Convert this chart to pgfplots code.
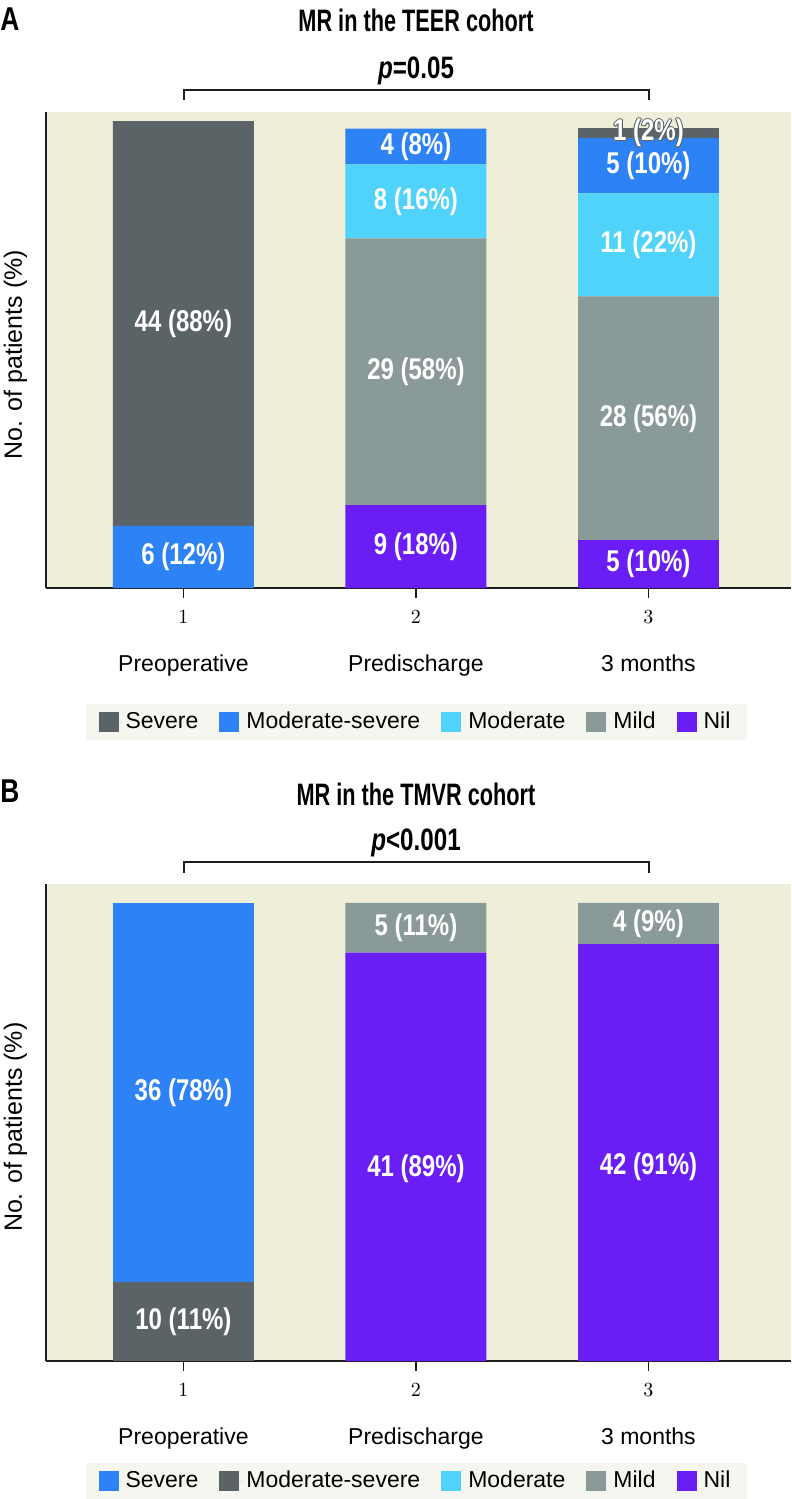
\documentclass[border=0pt]{standalone}
\usepackage{fontspec}
\setmainfont{Liberation Sans}
\newfontfamily\condfont[FakeStretch=0.70]{Liberation Sans}
\newfontfamily\labfont[FakeStretch=0.80]{Liberation Sans}
\newfontfamily\pfont[FakeStretch=0.78]{Liberation Sans}
\usepackage{pgfplots}
\pgfplotsset{compat=1.18}
\usepackage{pgfplotstable}

\definecolor{sevc}{RGB}{90,100,103}
\definecolor{modsevc}{RGB}{45,131,245}
\definecolor{modc}{RGB}{79,211,250}
\definecolor{mildc}{RGB}{137,154,153}
\definecolor{nilc}{RGB}{106,30,245}
\definecolor{bgc}{RGB}{239,238,216}
\definecolor{legbg}{RGB}{246,246,241}
\definecolor{axisc}{RGB}{30,30,30}

% segment heights in % of a full bar
\pgfplotstableread{
x nil  mild moderate modsev severe
1 0    0    0        13.5   88.0
2 18.0 58.0 16.1     7.8    0
3 10.4 53.0 22.4     12.0   2.2
}\tabA
\pgfplotstableread{
x nil  mild moderate modsev severe
1 0    0    0        17.2   82.8
2 89.1 10.9 0        0      0
3 91.0 9.0  0        0      0
}\tabB

\pgfplotsset{mrbars/.style={
    ybar stacked, bar width=0.606,
    scale only axis, width=372.5pt,
    xmin=0.409, xmax=3.613, ymin=0,
    axis x line*=bottom, axis y line*=left,
    axis line style={-, line width=1pt, color=axisc},
    axis background/.style={fill=bgc},
    xtick={1,2,3}, ytick=\empty,
    tick align=outside, major tick length=5pt,
    xtick style={line width=0.6pt, color=axisc},
    xticklabel style={font=\fontsize{10}{11}\selectfont, yshift=-3pt},
    ylabel={No. of patients (\%)},
    ylabel style={at={(axis description cs:-0.041,0.49)}, anchor=center,
                  inner sep=0pt, font=\fontsize{12.5}{14}\selectfont},
    clip=false,
    legend columns=5, reverse legend,
    legend style={draw=none, fill=legbg, anchor=center,
                  font=\fontsize{11.5}{13}\selectfont,
                  inner xsep=6.5pt, inner ysep=2pt,
                  nodes={inner ysep=2pt},
                  /tikz/every even column/.append style={column sep=8.5pt}},
    legend image code/.code={\fill[##1] (0pt,-5pt) rectangle (10pt,5pt);
                             \path (0pt,0pt) -- (11.5pt,0pt);},
}}
\tikzset{
  barlab/.style={text=white, anchor=center, inner sep=0pt,
                 font=\labfont\bfseries\fontsize{15}{16}\selectfont},
  halo/.style={barlab, text=sevc},
  catlab/.style={anchor=base, yshift=-41.5pt, font=\fontsize{11.5}{13}\selectfont},
}

\begin{document}
\begin{tikzpicture}
\path (0,0) rectangle (395.5pt,-749.5pt);

% ---------- panel A ----------
\begin{axis}[mrbars, height=238pt, ymax=103.5,
    at={(23pt,-294pt)}, anchor=south west,
    legend style={at={(0.4973,-0.2815)}}]
\addplot[fill=nilc, draw=none] table[x=x, y=nil] {\tabA};
\addplot[fill=mildc, draw=none] table[x=x, y=mild] {\tabA};
\addplot[fill=modc, draw=none] table[x=x, y=moderate] {\tabA};
\addplot[fill=modsevc, draw=none] table[x=x, y=modsev] {\tabA};
\addplot[fill=sevc, draw=none] table[x=x, y=severe] {\tabA};
\legend{Nil, Mild, Moderate, Moderate-severe, Severe}

% label anchors at the middle of each segment
\coordinate (a1) at (axis cs:1,6.75);
\coordinate (a2) at (axis cs:1,57.5);
\coordinate (a3) at (axis cs:2,9.0);
\coordinate (a4) at (axis cs:2,47.0);
\coordinate (a5) at (axis cs:2,84.0);
\coordinate (a6) at (axis cs:2,96.0);
\coordinate (a7) at (axis cs:3,5.2);
\coordinate (a8) at (axis cs:3,36.9);
\coordinate (a9) at (axis cs:3,74.6);
\coordinate (a10) at (axis cs:3,91.8);
\coordinate (a11) at (axis cs:3,98.9);

\node[catlab] at (axis cs:1,0) {Preoperative};
\node[catlab] at (axis cs:2,0) {Predischarge};
\node[catlab] at (axis cs:3,0) {3 months};
\end{axis}

\node[barlab] at (a1) {6 (12\%)};
\node[barlab] at (a2) {44 (88\%)};
\node[barlab] at (a3) {9 (18\%)};
\node[barlab] at (a4) {29 (58\%)};
\node[barlab] at (a5) {8 (16\%)};
\node[barlab] at (a6) {4 (8\%)};
\node[barlab] at (a7) {5 (10\%)};
\node[barlab] at (a8) {28 (56\%)};
\node[barlab] at (a9) {11 (22\%)};
\node[barlab] at (a10) {5 (10\%)};
% the thin top segment: white text with a dark rim
\foreach \dx/\dy in {-0.5/0, 0.5/0, 0/-0.5, 0/0.5, -0.35/-0.35, 0.35/0.35, -0.35/0.35, 0.35/-0.35}
  \node[halo, xshift=\dx pt, yshift=\dy pt] at (a11) {1 (2\%)};
\node[barlab] at (a11) {1 (2\%)};

% ---------- panel B ----------
\begin{axis}[mrbars, height=238.5pt, ymax=104.1,
    at={(23pt,-680.5pt)}, anchor=south west,
    legend style={at={(0.4973,-0.2516)}}]
\addplot[fill=nilc, draw=none] table[x=x, y=nil] {\tabB};
\addplot[fill=mildc, draw=none] table[x=x, y=mild] {\tabB};
\addplot[fill=modc, draw=none] table[x=x, y=moderate] {\tabB};
\addplot[fill=sevc, draw=none] table[x=x, y=modsev] {\tabB};
\addplot[fill=modsevc, draw=none] table[x=x, y=severe] {\tabB};
\legend{Nil, Mild, Moderate, Moderate-severe, Severe}

\coordinate (b1) at (axis cs:1,8.6);
\coordinate (b2) at (axis cs:1,58.6);
\coordinate (b3) at (axis cs:2,42.0);
\coordinate (b4) at (axis cs:2,94.5);
\coordinate (b5) at (axis cs:3,42.5);
\coordinate (b6) at (axis cs:3,95.5);

\node[catlab] at (axis cs:1,0) {Preoperative};
\node[catlab] at (axis cs:2,0) {Predischarge};
\node[catlab] at (axis cs:3,0) {3 months};
\end{axis}

\node[barlab] at (b1) {10 (11\%)};
\node[barlab] at (b2) {36 (78\%)};
\node[barlab] at (b3) {41 (89\%)};
\node[barlab] at (b4) {5 (11\%)};
\node[barlab] at (b5) {42 (91\%)};
\node[barlab] at (b6) {4 (9\%)};

% ---------- panel letters, titles, p values ----------
\node[anchor=base west, inner sep=0pt, font=\labfont\bfseries\fontsize{16.5}{18}\selectfont]
  at (0pt,-15.5pt) {A};
\node[anchor=base, inner sep=0pt, font=\condfont\bfseries\fontsize{15.5}{17}\selectfont]
  at (208pt,-16pt) {MR in the TEER cohort};
\node[anchor=base, inner sep=0pt, font=\pfont\bfseries\fontsize{15.5}{17}\selectfont]
  at (208pt,-39pt) {\textit{p}=0.05};
\draw[line width=1pt, color=axisc] (91.75pt,-50pt) -- (91.75pt,-45pt) -- (324.25pt,-45pt) -- (324.25pt,-50pt);

\node[anchor=base west, inner sep=0pt, font=\labfont\bfseries\fontsize{16.5}{18}\selectfont]
  at (0pt,-401pt) {B};
\node[anchor=base, inner sep=0pt, font=\condfont\bfseries\fontsize{15.5}{17}\selectfont]
  at (208pt,-402.5pt) {MR in the TMVR cohort};
\node[anchor=base, inner sep=0pt, font=\pfont\bfseries\fontsize{15.5}{17}\selectfont]
  at (208pt,-425pt) {\textit{p}<0.001};
\draw[line width=1pt, color=axisc] (91.75pt,-436.5pt) -- (91.75pt,-431pt) -- (324.25pt,-431pt) -- (324.25pt,-436.5pt);
\end{tikzpicture}
\end{document}
